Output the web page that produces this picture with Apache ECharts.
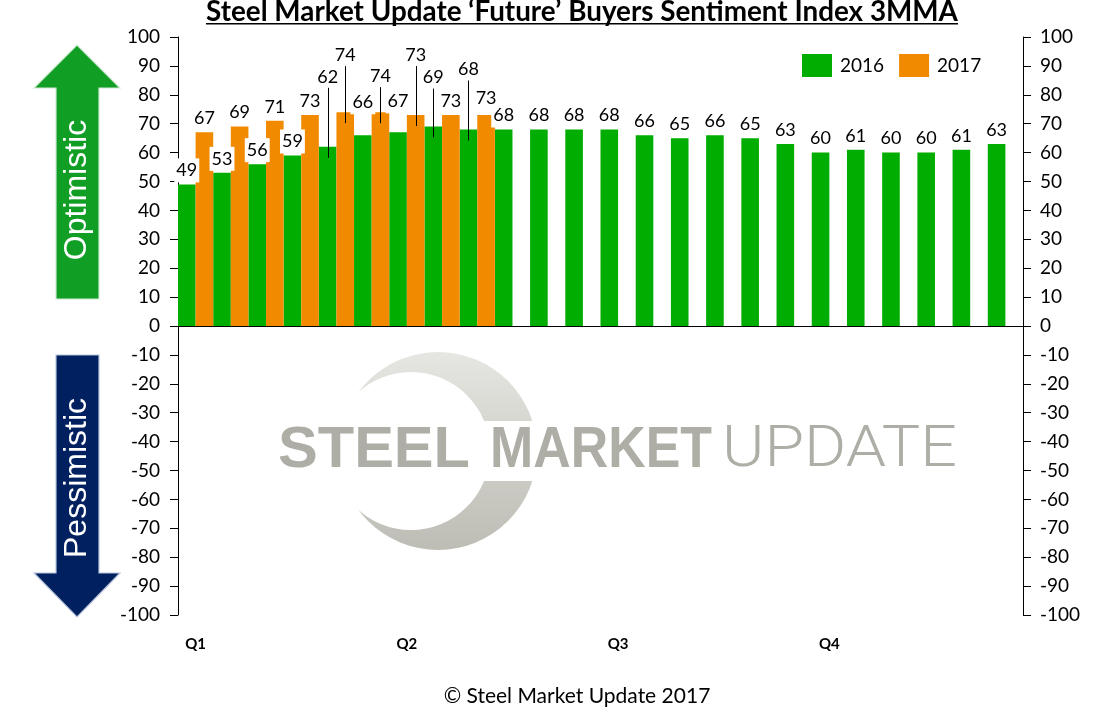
<!DOCTYPE html>
<html><head><meta charset="utf-8">
<script src="https://cdn.jsdelivr.net/npm/echarts@6/dist/echarts.min.js"></script>
<style>html,body{margin:0;padding:0;background:#fff;}#c{width:1120px;height:712px;}</style>
</head><body><div id="c"></div>
<script>
// ---- data ----
const periods = ['1','2','3','4','5','6','7','8','9','10','11','12','13','14','15','16','17','18','19','20','21','22','23','24'];
const quarterLabels = ['Q1','Q2','Q3','Q4'];
const values2016 = [49,53,56,59,62,66,67,69,68,68,68,68,68,66,65,66,65,63,60,61,60,60,61,63];
const values2017 = [67,69,71,73,74,74,73,73,73];
const seriesNames = ['2016','2017'];
// ---- label layout (extra label lift in px, and which labels have leader lines) ----
const lift2016 = [0,0,0,0,56,19,17,35,46];
const lift2017 = [0,0,0,0,43,22,46,0,3];
const leader2016 = [4,7,8];
const leader2017 = [4,5,6];

const GREEN = '#00AD00', ORANGE = '#F28A00';
const FONT = 'Lato';

function measure(text, font){
  const ctx = document.createElement('canvas').getContext('2d');
  ctx.font = font; return ctx.measureText(text).width;
}
const labelBase = {show:true, position:'top', distance:2, fontFamily:FONT, fontSize:18, lineHeight:20,
  color:'#000', backgroundColor:'#fff', padding:[2,2]};
function barData(vals, lifts){
  return vals.map((v,i)=>({value:v, label:{distance:2+(lifts[i]||0)}}));
}
const leaders = [];
leader2016.forEach(i=>leaders.push([i, values2016[i], -1, lift2016[i]]));
leader2017.forEach(i=>leaders.push([i, values2017[i], 1, lift2017[i]]));

const titleText = 'Steel Market Update \u2018Future\u2019 Buyers Sentiment Index 3MMA';
const titleTargetW = 752;
const titleSize = 22 * titleTargetW / measure(titleText, 'bold 22px ' + FONT);
const titleCx = 582;

function wmWord(text, font, x, targetW){
  const w = measure(text, font);
  return {type:'text', x:x, y:451, scaleX: targetW/w, scaleY:1, z:-10,
    style:{text:text, x:0, y:0, align:'left', verticalAlign:'middle', font:font, fill:'#aeaea7'}};
}

const chart = echarts.init(document.getElementById('c'));
chart.setOption({
  animation:false,
  backgroundColor:'#fff',
  grid:{left:178, right:97, top:37, bottom:97, containLabel:false},
  legend:{data:seriesNames, left:802, top:54, padding:0, icon:'rect', itemWidth:30, itemHeight:23, itemGap:15,
    textStyle:{fontFamily:FONT, fontSize:19, color:'#000', padding:[0,0,0,3]}},
  xAxis:[
    {type:'category', data:periods, position:'bottom', axisLine:{show:true, onZero:true, lineStyle:{color:'#000', width:1}},
      axisTick:{show:false}, axisLabel:{show:false}, splitLine:{show:false}},
    {type:'category', data:periods, position:'bottom', axisLine:{show:false, onZero:false}, axisTick:{show:false},
      splitLine:{show:false},
      axisLabel:{show:true, interval:0, margin:22, fontFamily:FONT, fontWeight:'bold', fontSize:15, color:'#000',
        formatter:(v,i)=> (i%6===0 ? quarterLabels[i/6] : '')}}
  ],
  yAxis:[
    {type:'value', min:-100, max:100, interval:10, position:'left',
      axisLine:{show:true, lineStyle:{color:'#000'}}, axisTick:{show:true, length:8, lineStyle:{color:'#000'}},
      splitLine:{show:false}, axisLabel:{margin:18, fontFamily:FONT, fontSize:19, color:'#000'}},
    {type:'value', min:-100, max:100, interval:10, position:'right',
      axisLine:{show:true, lineStyle:{color:'#000'}}, axisTick:{show:true, length:8, lineStyle:{color:'#000'}},
      splitLine:{show:false}, axisLabel:{margin:17, fontFamily:FONT, fontSize:19, color:'#000'}}
  ],
  series:[
    {name:seriesNames[0], type:'bar', xAxisIndex:0, yAxisIndex:0, barGap:'0%', barCategoryGap:'0%',
      itemStyle:{color:GREEN}, label:labelBase, data:barData(values2016, lift2016), z:2},
    {name:seriesNames[1], type:'bar', xAxisIndex:0, yAxisIndex:0, barGap:'0%', barCategoryGap:'0%',
      itemStyle:{color:ORANGE}, label:labelBase, data:barData(values2017, lift2017), z:2},
    {type:'custom', xAxisIndex:0, yAxisIndex:0, z:4, silent:true, encode:{x:0, y:1},
      renderItem:function(params, api){
        const p = api.coord([api.value(0), api.value(1)]);
        const bw = api.size([1,0])[0];
        const x = Math.round(p[0] + api.value(2)*bw/4) + 0.5;
        return {type:'line', shape:{x1:x, y1:p[1]-api.value(3)-3, x2:x, y2:p[1]+11},
          style:{stroke:'#000', lineWidth:1}};
      },
      data:leaders}
  ],
  graphic:[
    // title
    {type:'text', x:titleCx, y:12.5, style:{text:titleText, x:0, y:0, align:'center', verticalAlign:'middle',
      font:'bold '+titleSize.toFixed(2)+'px '+FONT, fill:'#000'}},
    {type:'rect', shape:{x:titleCx-titleTargetW/2, y:23, width:titleTargetW, height:1.6}, style:{fill:'#000'}},
    // arrows
    {type:'polygon', shape:{points:[[77,45],[120,88],[99,88],[99,299],[56,299],[56,88],[34,88]]},
      style:{fill:'#109E25', stroke:'#cfe8d2', lineWidth:1.2}},
    {type:'text', x:77, y:190, rotation:Math.PI/2, style:{text:'Optimistic', x:0, y:0, align:'center', verticalAlign:'middle',
      font:'32px "Liberation Sans"', fill:'#fff'}},
    {type:'polygon', shape:{points:[[56,355],[99,355],[99,573],[120,573],[77,617],[34,573],[56,573]]},
      style:{fill:'#002060', stroke:'#b8c4dc', lineWidth:1.2}},
    {type:'text', x:77, y:478, rotation:Math.PI/2, style:{text:'Pessimistic', x:0, y:0, align:'center', verticalAlign:'middle',
      font:'32px "Liberation Sans"', fill:'#fff'}},
    // watermark
    {type:'circle', z:-12, shape:{cx:438, cy:451, r:99},
      style:{fill:new echarts.graphic.LinearGradient(0,0,0,1,[{offset:0,color:'#e6e6e2'},{offset:1,color:'#bdbdb5'}])}},
    {type:'circle', z:-11, shape:{cx:411, cy:451, r:79}, style:{fill:'#fff'}},
    {type:'rect', z:-11, shape:{x:470, y:421, width:90, height:60}, style:{fill:'#fff'}},
    wmWord('STEEL', 'bold 58px "Liberation Sans"', 278, 192),
    wmWord('MARKET', 'bold 58px "Liberation Sans"', 490, 222),
    wmWord('UPDATE', '300 58px Roboto', 722, 235),
    // footer
    {type:'text', x:577, y:696, style:{text:'\u00A9 Steel Market Update 2017', x:0, y:0, align:'center', verticalAlign:'middle',
      font:'21px '+FONT, fill:'#000'}}
  ]
});
</script></body></html>
